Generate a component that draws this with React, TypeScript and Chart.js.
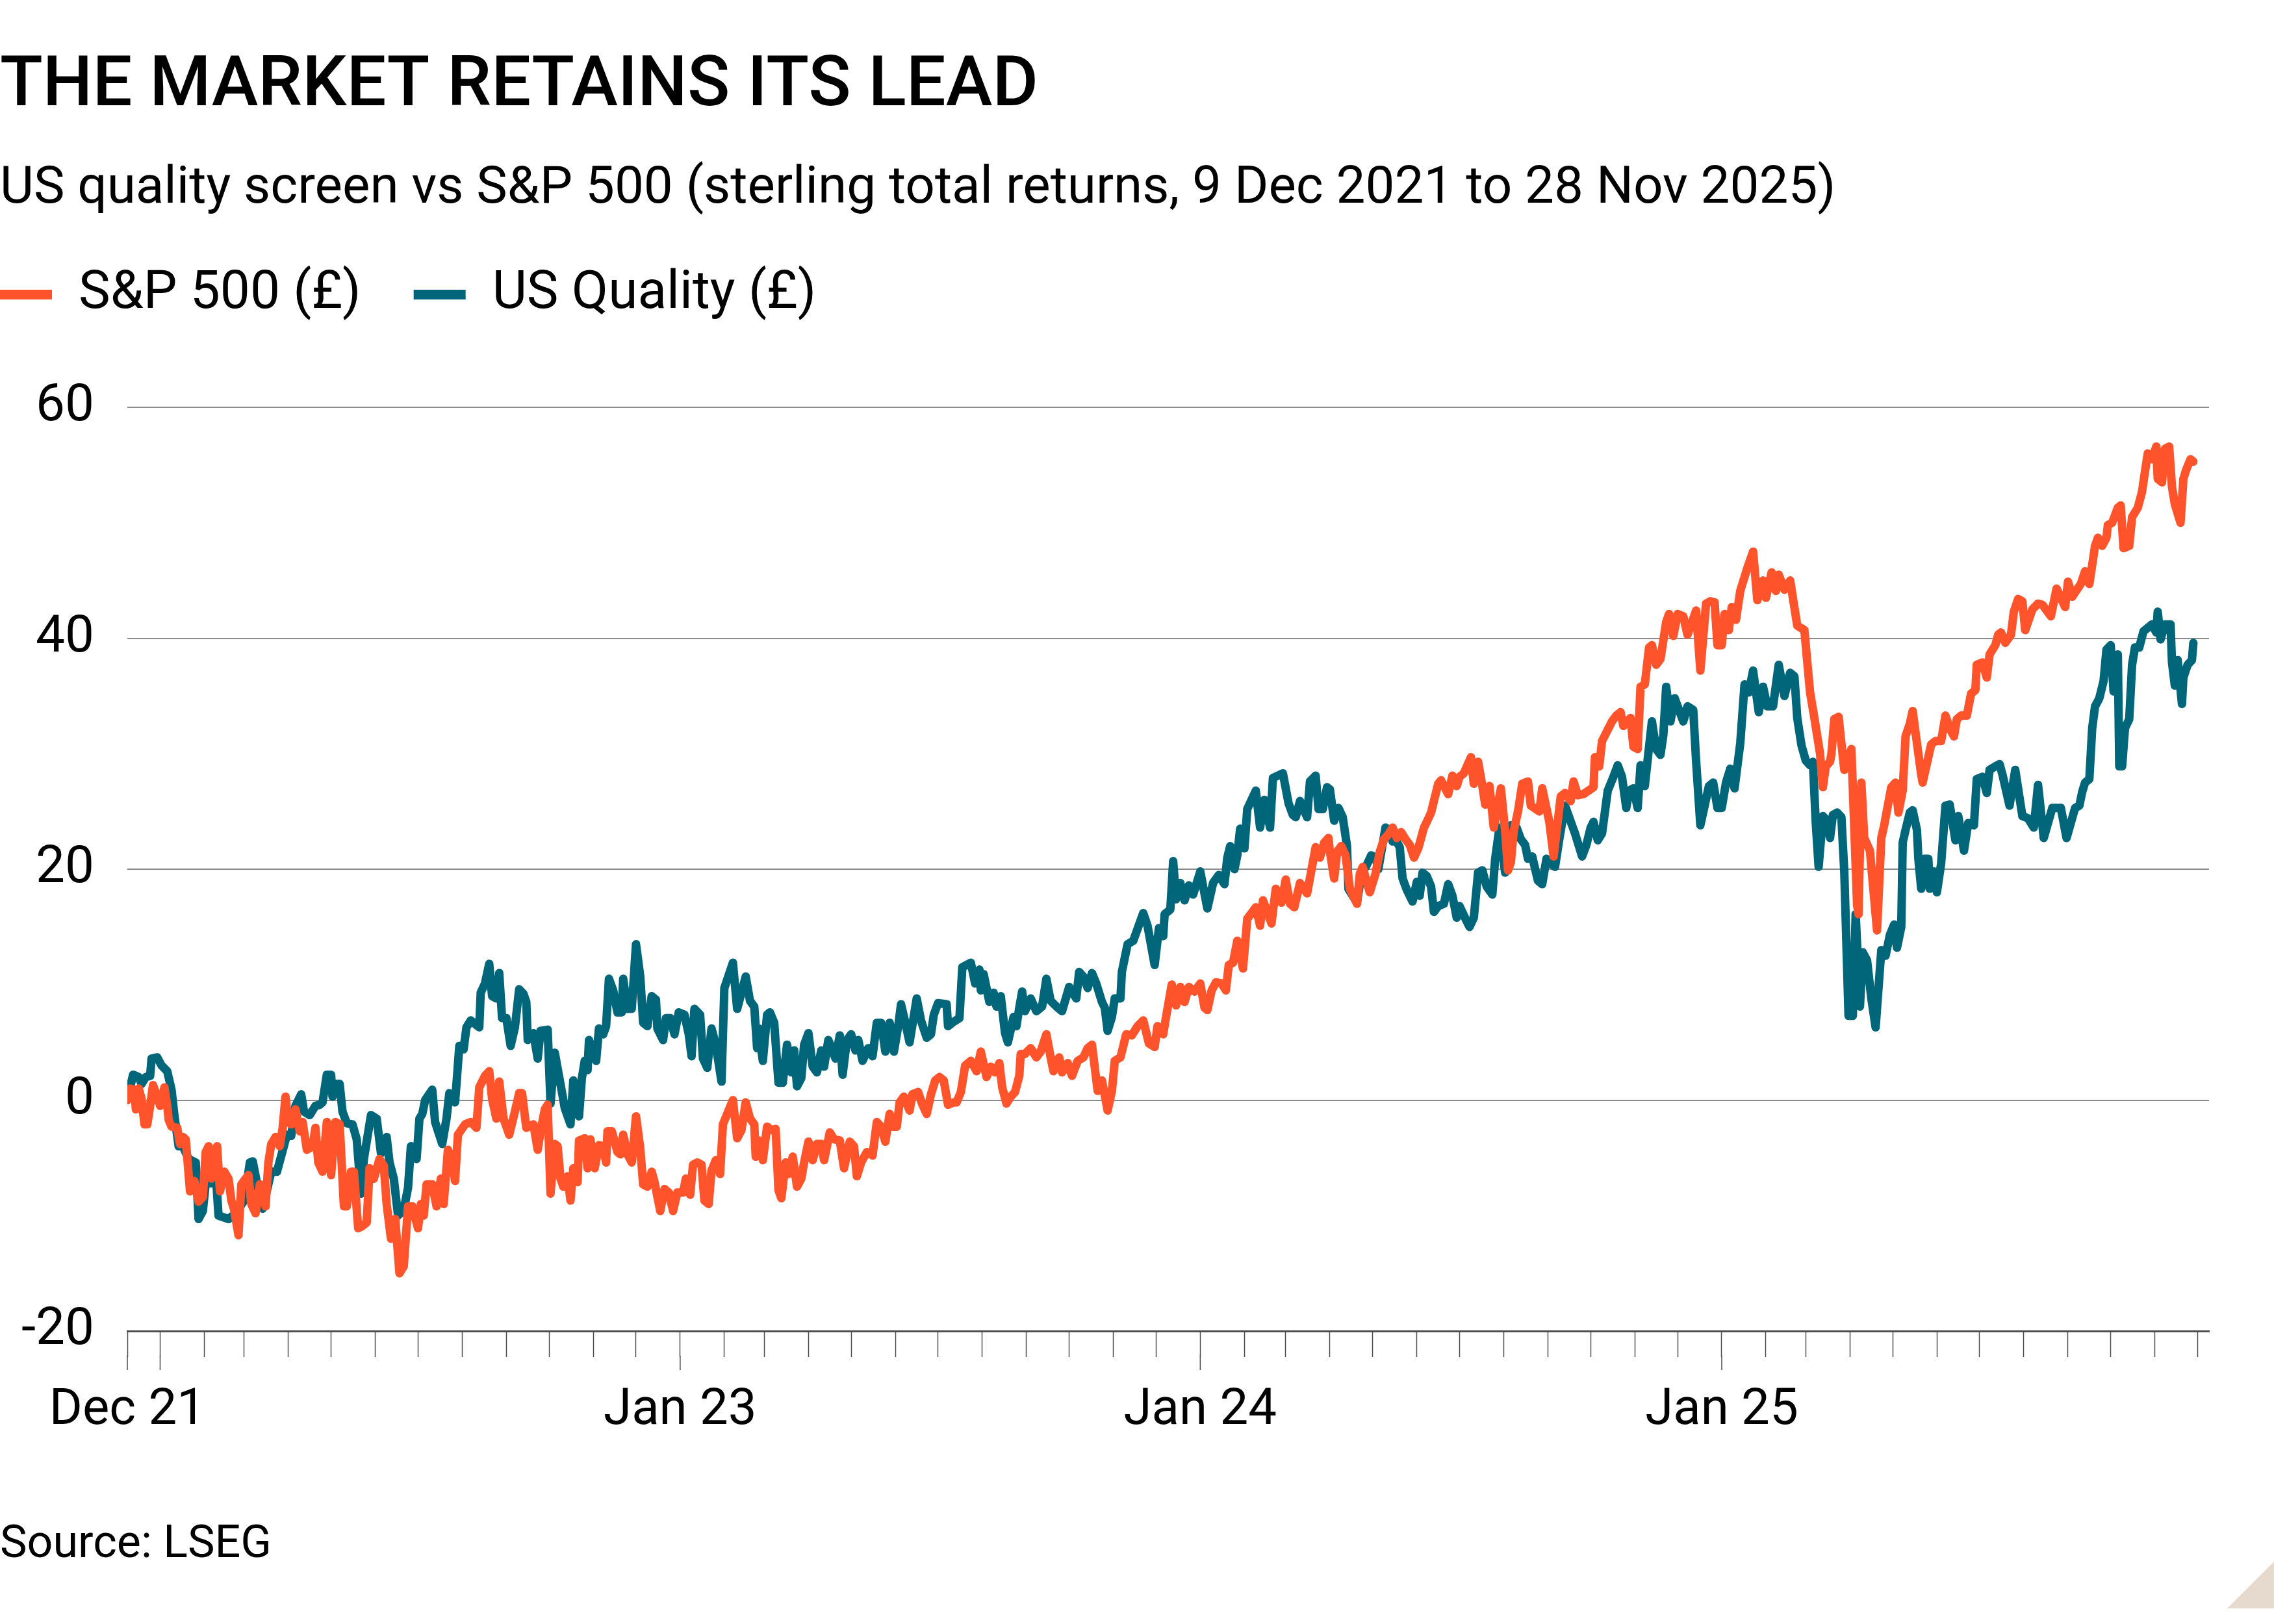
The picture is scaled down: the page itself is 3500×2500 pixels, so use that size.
import React, { useEffect, useRef } from 'react';
import { Chart, registerables } from 'chart.js';

Chart.register(...registerables);

const FONT = 'Roboto';
Chart.defaults.font.family = FONT;

// ---- text ----
const TITLE = 'THE MARKET RETAINS ITS LEAD';
const SUBTITLE = 'US quality screen vs S&P 500 (sterling total returns, 9 Dec 2021 to 28 Nov 2025)';
const SOURCE = 'Source: LSEG';
const SERIES_LABELS = ['S&P 500 (£)', 'US Quality (£)'];
const SERIES_COLORS = ['#FF542B', '#02667A'];

// ---- axes ----
const START_DATE = '2021-12-09';
const END_AXIS_DATE = '2025-12-09';
const Y_MIN = -20;
const Y_MAX = 60;
const Y_TICKS = [-20, 0, 20, 40, 60];
const X_LABEL_DATES = ['2021-12-09', '2023-01-01', '2024-01-01', '2025-01-01'];
const X_LABEL_TEXTS = ['Dec 21', 'Jan 23', 'Jan 24', 'Jan 25'];
const X_MAJOR_TICK_DATES = ['2021-12-09', '2022-01-01', '2023-01-01', '2024-01-01', '2025-01-01'];

// ---- data: days since 9 Dec 2021, cumulative sterling total return (%) ----
const spDays = [0,2,5,6,8,10,12,14,16,18,21,23,26,28,29,31,35,37,39,41,44,47,50,53,55,57,59,61,63,65,68,71,73,75,78,80,83,85,87,90,93,97,99,101,104,107,109,111,113,115,118,121,123,126,130,132,134,137,140,143,146,149,152,154,157,159,162,165,168,170,173,177,180,182,185,188,191,194,197,200,204,206,208,210,214,217,220,222,225,228,230,232,237,241,245,247,251,254,256,259,261,264,268,272,275,277,280,285,288,290,293,295,297,300,302,304,306,309,311,313,316,317,321,323,325,328,331,334,336,337,340,344,346,348,351,354,357,360,362,365,368,370,374,377,380,383,386,390,392,395,397,400,403,405,408,410,413,416,418,421,425,428,431,434,437,440,441,443,446,449,452,455,457,459,462,464,467,470,473,475,478,481,484,487,489,493,496,500,503,507,510,512,515,519,523,526,529,532,535,537,540,542,545,549,551,555,558,561,564,567,570,573,576,580,582,585,588,592,596,599,603,606,609,612,614,617,620,623,626,627,630,634,638,641,645,648,650,654,656,660,663,667,671,674,677,681,684,688,691,693,697,701,705,709,713,717,721,723,727,729,733,736,739,742,745,749,753,756,758,761,764,768,771,773,776,779,783,786,789,792,795,797,803,806,810,813,816,819,823,828,831,834,837,840,843,844,847,849,852,855,858,863,865,867,870,872,876,879,882,885,888,891,894,897,900,903,906,910,912,915,920,922,927,930,933,935,938,943,945,948,951,953,956,959,964,967,969,971,973,976,979,983,985,991,993,998,1001,1006,1009,1013,1015,1018,1022,1029,1030,1033,1035,1042,1045,1048,1050,1055,1057,1060,1062,1065,1068,1070,1073,1076,1080,1082,1085,1088,1092,1095,1101,1104,1108,1111,1114,1116,1119,1121,1124,1126,1129,1132,1137,1141,1144,1148,1150,1154,1157,1159,1163,1167,1172,1177,1181,1184,1188,1190,1192,1195,1196,1198,1201,1205,1210,1214,1215,1217,1219,1223,1228,1231,1233,1238,1241,1243,1246,1248,1251,1253,1257,1259,1260,1266,1269,1273,1276,1279,1282,1284,1287,1291,1294,1297,1298,1302,1305,1307,1311,1313,1315,1318,1322,1324,1327,1330,1332,1337,1341,1344,1350,1354,1360,1362,1365,1371,1374,1377,1381,1383,1386,1389,1390,1393,1397,1399,1401,1405,1407,1411,1414,1416,1418,1421,1424,1425,1428,1430,1433,1435,1437,1441,1443,1445,1448,1450];
const spValues = [0.0,1.0,0.9,-0.8,1.0,0.1,-2.1,-2.1,-0.5,1.3,0.3,-0.5,1.1,-0.5,-1.7,-2.3,-2.4,-3.8,-3.2,-3.4,-7.9,-7.0,-8.8,-8.4,-4.5,-4.0,-6.8,-6.4,-4.0,-7.9,-6.2,-6.8,-8.7,-9.5,-11.7,-7.3,-6.8,-6.5,-9.0,-9.8,-7.3,-9.2,-5.4,-3.8,-3.2,-4.0,-2.4,0.3,-1.9,-2.1,-0.8,-2.7,-1.9,-4.3,-4.0,-2.4,-5.4,-6.2,-1.9,-6.5,-1.9,-2.1,-9.2,-9.2,-6.2,-6.2,-11.1,-10.9,-10.6,-5.9,-6.8,-5.1,-5.7,-9.0,-12.0,-10.3,-15.0,-14.4,-9.2,-9.2,-11.1,-9.0,-10.0,-7.3,-7.3,-9.2,-6.8,-9.0,-4.3,-5.1,-7.0,-3.0,-2.1,-1.9,-2.4,1.1,2.1,2.5,0.1,-1.6,1.6,-1.6,-3.0,-1.0,0.6,0.6,-2.4,-2.1,-4.3,-2.7,-0.8,-0.4,-8.1,-3.8,-4.0,-6.8,-7.5,-6.6,-8.7,-5.9,-7.1,-3.5,-3.3,-5.9,-3.4,-5.9,-3.9,-4.0,-5.4,-2.7,-2.7,-4.5,-4.7,-3.0,-4.7,-5.4,-1.4,-4.2,-7.3,-7.5,-6.2,-7.1,-9.6,-7.7,-8.0,-9.6,-8.0,-8.0,-6.8,-8.2,-5.6,-5.4,-5.6,-8.7,-9.0,-6.1,-5.2,-6.4,-2.1,-1.2,0.0,-3.3,-2.6,-0.2,-1.6,-2.1,-4.9,-3.5,-5.2,-2.3,-2.6,-2.5,-7.8,-8.5,-5.4,-6.4,-4.9,-7.5,-6.8,-5.4,-3.6,-5.2,-3.8,-3.8,-5.2,-2.8,-3.4,-3.5,-5.9,-3.6,-4.0,-6.6,-5.4,-4.5,-4.8,-1.9,-2.3,-3.6,-1.2,-2.3,-2.3,-0.2,0.3,-0.9,0.5,0.7,-0.4,-1.2,0.5,1.7,2.0,1.7,-0.4,-0.2,-0.2,0.7,3.0,3.4,2.5,4.2,2.0,2.9,2.4,3.2,1.1,-0.3,0.3,0.7,2.1,4.0,4.0,4.5,3.7,4.2,5.7,3.7,2.5,3.7,2.4,3.2,2.1,3.4,3.7,4.5,4.8,0.8,1.7,-0.9,0.8,3.4,3.7,5.7,5.6,6.4,6.9,4.9,4.6,6.4,5.7,7.2,10.0,8.2,9.8,8.5,9.8,9.4,10.1,8.0,7.8,9.5,10.2,10.1,9.5,11.7,11.9,13.8,11.4,15.7,16.2,16.7,15.1,17.3,15.3,18.3,17.1,19.1,17.0,16.7,18.8,17.9,19.9,21.9,21.0,22.3,22.7,21.5,19.2,21.5,22.0,21.2,18.3,17.0,19.6,20.2,18.8,18.0,19.6,21.5,22.6,23.0,23.6,22.7,23.2,22.6,22.1,21.0,21.8,23.6,24.1,24.9,27.4,27.7,26.5,28.1,27.2,28.0,28.3,29.7,27.4,29.3,27.2,25.6,27.2,23.6,27.0,23.3,19.9,20.6,23.3,25.0,27.4,27.6,25.5,25.0,27.0,24.1,21.1,26.3,26.6,25.9,27.6,26.4,26.5,27.1,29.7,28.9,31.1,32.8,33.3,33.6,32.4,33.1,30.6,30.4,35.8,36.0,39.2,39.4,37.7,38.2,41.4,42.1,40.2,42.1,41.9,40.3,42.4,37.2,43.0,43.2,43.1,39.4,39.4,42.1,40.7,42.7,41.6,44.1,46.1,47.5,43.3,45.0,43.5,45.7,44.1,45.5,44.2,45.0,41.1,40.7,35.3,33.1,30.0,27.1,28.9,29.3,30.0,33.0,33.2,28.6,30.4,16.9,16.1,27.5,22.7,21.6,14.7,22.7,23.8,27.1,27.5,24.9,26.8,31.5,32.6,33.7,30.0,28.2,27.5,30.8,31.1,31.1,33.3,32.2,31.5,33.0,33.3,33.3,35.2,35.5,37.7,37.9,36.6,38.6,39.4,40.3,40.5,39.6,40.3,42.3,43.4,43.2,40.7,42.5,43.0,42.9,41.9,44.3,42.7,44.9,43.6,44.7,45.8,44.7,48.0,48.7,48.0,48.7,49.8,50.0,51.3,51.5,47.8,48.0,50.5,51.3,52.7,54.4,56.0,55.5,56.6,53.8,53.5,56.4,56.6,53.1,51.6,50.0,53.8,54.6,55.5,55.3];

const qDays = [0,4,8,10,13,16,17,21,24,28,31,33,36,39,43,48,50,53,55,59,62,64,71,76,82,86,88,91,95,101,105,112,115,118,122,124,128,132,135,137,140,143,144,147,149,151,154,158,161,164,166,171,175,178,182,184,187,190,194,197,199,203,205,207,209,214,216,221,224,226,230,231,233,236,238,241,247,248,251,254,256,259,261,263,266,269,272,275,278,280,281,285,288,290,295,297,300,305,307,311,313,317,319,321,323,324,329,331,334,336,338,341,344,347,348,351,354,357,360,362,365,368,371,372,376,378,381,384,387,391,394,396,398,402,404,407,410,413,417,419,425,428,434,437,440,442,443,446,449,451,454,457,460,463,466,468,470,473,475,478,481,484,487,489,492,497,500,502,505,508,511,513,516,520,523,526,529,532,535,538,541,543,546,549,554,557,561,564,566,569,575,576,579,584,586,592,595,598,599,601,605,608,610,613,616,618,622,624,626,628,630,634,638,642,645,648,653,656,661,666,668,671,674,677,680,684,686,688,691,693,697,698,702,706,713,716,721,724,727,728,732,734,736,739,742,745,748,750,753,758,762,766,770,772,774,777,779,781,784,786,789,792,795,798,802,804,811,815,818,820,823,828,830,834,836,839,842,844,847,850,853,856,857,863,866,870,873,876,878,883,886,888,890,893,895,898,902,905,907,909,912,915,917,920,924,927,930,933,935,938,942,945,948,951,954,958,960,963,967,971,975,978,981,983,986,990,993,996,1000,1002,1005,1009,1016,1021,1024,1027,1029,1032,1035,1039,1043,1046,1049,1052,1054,1057,1060,1062,1065,1068,1070,1073,1076,1078,1080,1083,1086,1089,1092,1095,1099,1101,1104,1110,1113,1116,1119,1122,1125,1128,1132,1135,1138,1141,1145,1148,1151,1155,1159,1163,1167,1170,1172,1175,1178,1181,1183,1185,1187,1190,1193,1195,1197,1200,1203,1205,1208,1211,1213,1216,1218,1221,1224,1227,1231,1234,1237,1240,1242,1245,1246,1248,1251,1253,1256,1257,1259,1261,1264,1265,1268,1270,1273,1276,1279,1283,1285,1289,1292,1296,1298,1302,1305,1307,1311,1314,1316,1321,1325,1330,1334,1338,1341,1345,1351,1357,1361,1367,1370,1372,1374,1377,1379,1381,1384,1387,1389,1392,1394,1397,1398,1400,1402,1405,1407,1409,1412,1415,1417,1421,1424,1425,1427,1430,1434,1435,1437,1439,1442,1443,1446,1449,1450];
const qValues = [0.0,2.2,2.0,1.4,2.0,2.1,3.6,3.7,3.0,2.5,0.9,-1.3,-4.0,-4.0,-5.1,-5.4,-10.3,-9.6,-7.2,-7.2,-6.2,-10.0,-10.3,-9.8,-8.7,-5.4,-5.3,-7.2,-9.4,-6.2,-6.2,-3.0,-3.1,-0.5,0.5,-1.0,-1.3,-0.5,-0.4,-0.2,2.2,2.2,0.3,1.4,1.4,-1.0,-2.0,-2.1,-3.4,-8.1,-5.1,-1.3,-1.6,-4.6,-3.2,-5.4,-6.8,-10.0,-9.5,-7.6,-4.0,-5.1,-1.6,-1.2,0.0,0.9,-1.9,-3.8,-1.6,0.6,-0.2,1.4,4.7,4.4,6.3,6.9,6.3,9.3,10.1,11.8,9.0,8.8,11.0,7.1,7.1,4.7,6.3,9.6,9.2,8.5,5.2,5.8,3.6,6.0,6.1,-0.3,4.1,0.7,-0.7,-2.1,1.7,-1.4,1.9,3.4,2.6,5.2,3.4,6.2,5.7,6.4,10.5,9.5,7.6,7.6,10.5,7.9,7.9,13.5,10.7,6.7,6.4,9.0,8.7,6.2,5.2,7.1,7.1,5.7,7.6,7.4,5.7,3.8,7.9,7.4,3.6,2.8,6.2,4.8,1.6,9.7,11.9,7.9,10.7,8.6,8.1,4.5,6.2,3.4,7.4,7.6,6.7,1.5,1.5,4.8,2.4,4.3,1.2,1.9,4.8,5.8,2.9,2.4,4.3,2.9,5.2,3.6,5.6,2.2,5.2,5.7,4.3,5.2,3.4,4.5,3.8,6.7,6.7,4.2,6.7,4.2,6.4,8.3,6.7,5.0,8.8,6.9,5.4,5.7,7.4,8.4,8.3,6.4,6.7,7.1,11.5,11.9,10.1,11.3,9.5,10.9,8.5,9.3,8.1,9.0,5.8,5.0,7.2,6.4,8.0,9.4,7.7,8.8,7.7,8.1,10.5,8.6,8.0,7.7,9.8,8.8,11.1,10.7,9.7,11.0,10.1,8.5,8.0,6.0,7.2,8.8,8.8,11.1,13.5,13.8,16.2,15.1,11.7,14.9,14.2,16.1,16.5,20.7,17.4,18.8,17.3,18.6,17.8,18.6,19.8,16.6,18.8,19.5,18.7,21.0,22.0,20.0,21.2,23.5,21.8,25.2,26.0,26.8,23.6,26.0,23.6,27.9,28.3,25.7,24.7,24.5,25.9,24.5,27.6,28.1,25.2,25.2,27.1,26.9,24.2,25.3,24.5,22.0,18.3,17.1,19.5,20.4,21.2,21.0,20.0,23.6,23.4,22.4,22.6,21.9,19.2,18.2,17.2,18.9,17.7,19.7,19.4,18.5,16.3,16.8,17.0,18.7,17.7,15.8,16.8,16.0,15.0,15.8,19.7,19.9,18.5,17.8,20.9,23.6,19.7,23.8,23.6,22.6,22.1,20.9,21.1,19.0,18.7,20.9,20.4,20.2,22.6,25.5,23.1,21.1,22.1,23.6,24.1,22.5,23.1,26.8,28.0,29.0,28.0,25.3,26.8,27.0,25.3,29.0,27.2,30.6,32.8,30.4,29.9,31.6,35.8,32.8,34.8,33.8,32.8,34.1,33.8,29.4,23.8,27.2,27.5,25.3,25.3,27.5,28.7,27.0,30.9,36.0,35.3,37.2,33.6,35.8,34.1,34.1,37.7,35.0,37.0,36.7,33.1,30.7,29.4,29.0,29.3,24.0,20.2,24.6,24.2,22.7,24.7,24.9,24.5,19.8,7.3,7.3,16.1,8.1,12.8,12.1,8.8,6.3,13.0,12.5,14.3,15.2,13.2,15.0,22.3,23.4,24.9,25.1,23.4,20.9,18.3,20.9,20.9,18.3,19.8,18.0,20.5,25.5,25.6,22.5,24.6,21.6,24.0,23.8,27.8,28.0,26.6,28.6,28.9,29.1,28.2,25.5,28.6,24.6,24.4,23.6,27.3,22.7,25.3,25.3,22.7,25.3,25.5,26.7,27.5,27.8,32.2,34.1,34.8,36.3,39.0,39.4,35.4,38.6,28.9,28.9,32.2,33.0,37.7,39.2,39.2,40.6,40.8,41.2,40.5,42.3,39.9,41.2,41.2,37.9,35.9,38.1,34.3,36.6,37.7,38.1,39.6];

// ---- helpers ----
const DAY_MS = 86400000;
const startMs = Date.parse(START_DATE + 'T00:00:00Z');
const toDay = (iso: string) => Math.round((Date.parse(iso + 'T00:00:00Z') - startMs) / DAY_MS);
const X_MAX = toDay(END_AXIS_DATE);

const monthTickDays: number[] = (() => {
  const out: number[] = [0];
  for (let y = 2022; y <= 2025; y++) {
    for (let m = 0; m < 12; m++) {
      const d = Math.round((Date.UTC(y, m, 1) - startMs) / DAY_MS);
      if (d > 0 && d <= X_MAX) out.push(d);
    }
  }
  return out;
})();
const labelByDay = new Map<number, string>(X_LABEL_DATES.map((d, i) => [toDay(d), X_LABEL_TEXTS[i]]));
const majorTickDays = X_MAJOR_TICK_DATES.map(toDay);

// layout constants (px)
const PLOT_TOP = 627;
const TITLE_SIZE = 108;
const TITLE_PAD_TOP = 70;
const SUB_SIZE = 80;
const SUB_PAD_TOP = 52;
const LEGEND_GAP = 81;
const LEGEND_BLOCK_HEIGHT = PLOT_TOP - (TITLE_PAD_TOP + TITLE_SIZE * 1.2) - (SUB_PAD_TOP + SUB_SIZE * 1.0);

const legendPlugin = {
  id: 'legendAdjust',
  beforeLayout(chart: any) {
    const lg = chart.legend;
    if (lg && !lg.__patched) {
      lg.__patched = true;
      const origFit = lg.fit;
      lg.fit = function (...args: any[]) {
        origFit.apply(this, args);
        this.height = LEGEND_BLOCK_HEIGHT;
      };
    }
  },
  afterLayout(chart: any) {
    const lg = chart.legend;
    if (lg) {
      lg.left -= LEGEND_GAP;
      lg.right -= LEGEND_GAP;
    }
  },
};

const majorTickPlugin = {
  id: 'majorTicks',
  afterDraw(chart: any) {
    const xs = chart.scales.x;
    const ctx = chart.ctx;
    ctx.save();
    ctx.strokeStyle = '#4d4d4d';
    ctx.lineWidth = 1.5;
    for (const d of majorTickDays) {
      const px = xs.getPixelForValue(d);
      ctx.beginPath();
      ctx.moveTo(px, xs.top + 38);
      ctx.lineTo(px, xs.top + 60);
      ctx.stroke();
    }
    ctx.restore();
  },
};

const footerPlugin = {
  id: 'footer',
  afterDraw(chart: any) {
    const ctx = chart.ctx;
    const h = chart.height;
    const w = chart.width;
    ctx.save();
    ctx.font = `400 70px ${FONT}`;
    ctx.fillStyle = '#000';
    ctx.textAlign = 'left';
    ctx.textBaseline = 'alphabetic';
    ctx.fillText(SOURCE, 0, h - 103);
    ctx.fillStyle = '#e6d9cd';
    ctx.beginPath();
    ctx.moveTo(w - 72, h - 24);
    ctx.lineTo(w, h - 24);
    ctx.lineTo(w, h - 96);
    ctx.closePath();
    ctx.fill();
    ctx.restore();
  },
};

export default function App() {
  const ref = useRef<HTMLCanvasElement | null>(null);

  useEffect(() => {
    document.body.style.margin = '0';
    const canvas = ref.current;
    if (!canvas) return;
    const mk = (days: number[], vals: number[]) => days.map((d, i) => ({ x: d, y: vals[i] }));
    const lineStyle = {
      borderWidth: 13,
      pointRadius: 0,
      tension: 0,
      borderJoinStyle: 'round',
      borderCapStyle: 'round',
    };
    const chart = new Chart(canvas, {
      type: 'line',
      data: {
        datasets: [
          {
            label: SERIES_LABELS[0],
            data: mk(spDays, spValues),
            borderColor: SERIES_COLORS[0],
            backgroundColor: SERIES_COLORS[0],
            ...lineStyle,
          },
          {
            label: SERIES_LABELS[1],
            data: mk(qDays, qValues),
            borderColor: SERIES_COLORS[1],
            backgroundColor: SERIES_COLORS[1],
            ...lineStyle,
          },
        ],
      } as any,
      options: {
        animation: false,
        responsive: false,
        maintainAspectRatio: false,
        events: [],
        layout: { padding: { left: 0, right: 100, top: 0, bottom: 280 } },
        plugins: {
          title: {
            display: true,
            text: TITLE,
            align: 'start',
            color: '#000',
            font: { family: FONT, size: TITLE_SIZE, weight: 500, lineHeight: 1.2 },
            padding: { top: TITLE_PAD_TOP, bottom: 0 },
          },
          subtitle: {
            display: true,
            text: SUBTITLE,
            align: 'start',
            color: '#000',
            font: { family: FONT, size: SUB_SIZE, weight: 400, lineHeight: 1.0 },
            padding: { top: SUB_PAD_TOP, bottom: 0 },
          },
          legend: {
            display: true,
            position: 'top',
            align: 'start',
            labels: {
              boxWidth: 80,
              boxHeight: 15,
              padding: LEGEND_GAP,
              color: '#000',
              font: { family: FONT, size: 82 },
              generateLabels: (c: any) =>
                c.data.datasets.map((ds: any, i: number) => ({
                  text: ds.label,
                  fillStyle: ds.borderColor,
                  strokeStyle: ds.borderColor,
                  lineWidth: 0,
                  hidden: false,
                  datasetIndex: i,
                })),
            },
          },
          tooltip: { enabled: false },
        },
        scales: {
          x: {
            type: 'linear',
            min: 0,
            max: X_MAX,
            afterBuildTicks: (s: any) => {
              s.ticks = monthTickDays.map((v) => ({ value: v }));
            },
            afterFit: (s: any) => {
              s.height = 171;
            },
            ticks: {
              autoSkip: false,
              maxRotation: 0,
              padding: 37,
              color: '#000',
              font: { family: FONT, size: 78 },
              callback: (v: any) => labelByDay.get(Number(v)) ?? '',
            },
            grid: {
              drawOnChartArea: false,
              drawTicks: true,
              tickLength: 40,
              tickColor: '#4d4d4d',
              tickWidth: 1.5,
            },
            border: { display: true, color: '#4d4d4d', width: 3 },
          },
          y: {
            type: 'linear',
            min: Y_MIN,
            max: Y_MAX,
            afterBuildTicks: (s: any) => {
              s.ticks = Y_TICKS.map((v) => ({ value: v }));
            },
            afterFit: (s: any) => {
              s.width = 196;
              s.paddingTop = PLOT_TOP;
            },
            ticks: {
              padding: 51,
              color: '#000',
              font: { family: FONT, size: 80 },
            },
            grid: {
              drawTicks: false,
              color: (ctx: any) => (ctx.tick && ctx.tick.value === Y_MIN ? 'rgba(0,0,0,0)' : '#8c8c8c'),
              lineWidth: 2,
            },
            border: { display: false },
          },
        },
      } as any,
      plugins: [legendPlugin, majorTickPlugin, footerPlugin],
    });
    return () => chart.destroy();
  }, []);

  return (
    <div style={{ width: 3500, height: 2500, background: '#fff' }}>
      <canvas ref={ref} width={3500} height={2500} style={{ display: 'block', width: 3500, height: 2500 }} />
    </div>
  );
}
